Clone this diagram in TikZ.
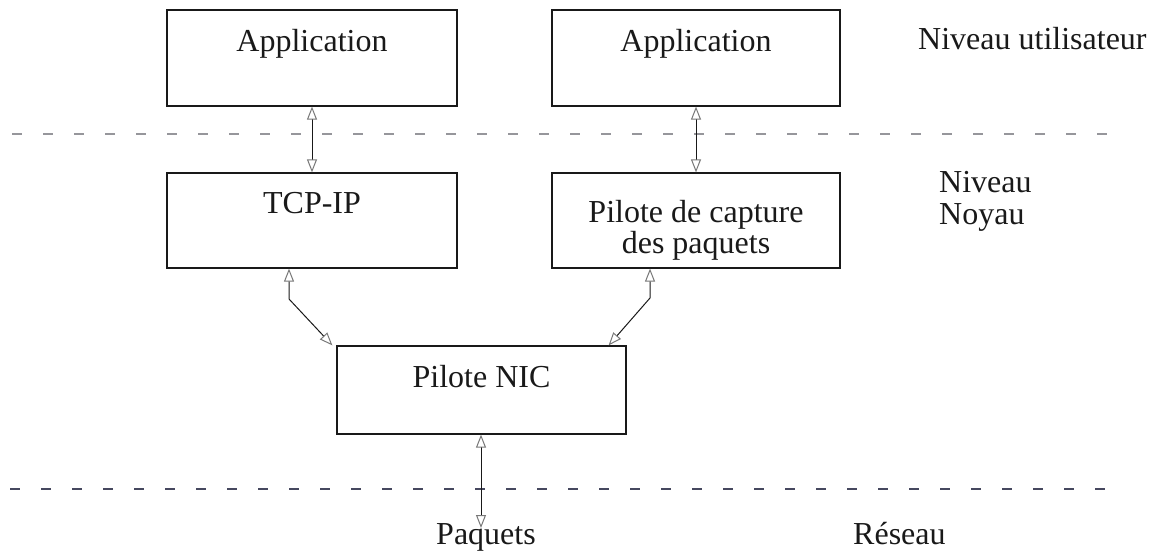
\documentclass[tikz,border=0pt]{standalone}
\usepackage{fontspec}
\setmainfont{Liberation Serif}
\usetikzlibrary{arrows.meta,calc}

\definecolor{inkdark}{RGB}{25,25,25}
\definecolor{sepupper}{RGB}{150,150,155}
\definecolor{seplower}{RGB}{70,72,95}
\definecolor{tipgray}{RGB}{120,120,120}

\tikzset{
  box/.style={draw=inkdark, line width=1.2pt, rectangle, inner sep=0pt},
  lbl/.style={font=\fontsize{32pt}{32pt}\selectfont, text=inkdark, inner sep=0pt},
  link/.style={draw=inkdark, line width=1pt,
    {Triangle[open, length=13pt, width=10pt, color=tipgray, line width=1pt]}-{Triangle[open, length=13pt, width=10pt, color=tipgray, line width=1pt]}},
  sepline/.style={line width=2.6pt, dash pattern=on 10pt off 21pt},
}

\begin{document}
\begin{tikzpicture}[x=1pt, y=-1pt]
  \useasboundingbox (0,0) rectangle (1159,551);

  % layer separators
  \coordinate (sepAw) at (12,134);
  \coordinate (sepAe) at (1115,134);
  \coordinate (sepBw) at (10,489);
  \coordinate (sepBe) at (1115,489);
  \draw[sepline, sepupper] (sepAw) -- (sepAe);
  \draw[sepline, seplower] (sepBw) -- (sepBe);

  % user level
  \node[box, minimum width=290pt, minimum height=96pt] (app1) at (312,58) {};
  \node[lbl, anchor=base] (app1t) at (312,52) {Application};
  \node[box, minimum width=288pt, minimum height=96pt] (app2) at (696,58) {};
  \node[lbl, anchor=base] (app2t) at (696,52) {Application};

  % kernel level
  \node[box, minimum width=290pt, minimum height=95pt] (tcp) at (312,220.5) {};
  \node[lbl, anchor=base] (tcpt) at (312,213) {TCP-IP};
  \node[box, minimum width=288pt, minimum height=95pt] (cap) at (696,220.5) {};
  \node[lbl, anchor=base] (capt1) at (696,222) {Pilote de capture};
  \node[lbl, anchor=base] (capt2) at (696,253) {des paquets};

  \node[box, minimum width=289pt, minimum height=88pt] (nic) at (481.5,390) {};
  \node[lbl, anchor=base] (nict) at (481.5,387) {Pilote NIC};

  % level names
  \node[lbl, anchor=base west] (lvlUser) at (918,50) {Niveau utilisateur};
  \node[lbl, anchor=base west] (lvlK1) at (939,192) {Niveau};
  \node[lbl, anchor=base west] (lvlK2) at (939,224) {Noyau};
  \node[lbl, anchor=base west] (lvlNet) at (853,544) {Réseau};
  \node[lbl, anchor=base] (paq) at (486,544) {Paquets};

  % connectors
  \coordinate (bendA) at (289,299);
  \coordinate (bendB) at (650,298);
  \coordinate (paqEnd) at (481,528);
  \draw[link] (app1.south) -- (tcp.north);
  \draw[link] (app2.south) -- (cap.north);
  \draw[link] (tcp.south -| bendA) -- (bendA) -- ($(nic.north west)+(-4pt,0)$);
  \draw[link] (cap.south -| bendB) -- (bendB) -- ($(nic.north east)+(-18pt,0)$);
  \draw[link] (nic.south -| paqEnd) -- (paqEnd);
\end{tikzpicture}
\end{document}
